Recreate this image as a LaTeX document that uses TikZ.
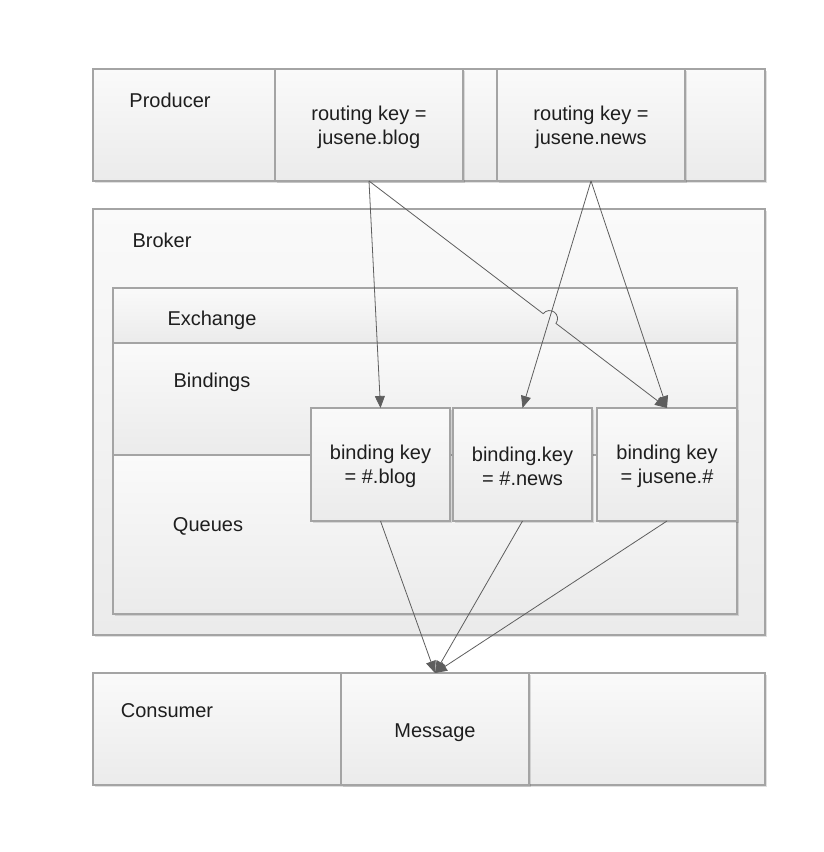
\documentclass[tikz,border=0pt]{standalone}
\usepackage{fontspec}
\setmainfont{Liberation Sans}
\usetikzlibrary{calc,arrows.meta,shadows}
\definecolor{boxline}{HTML}{A4A4A4}
\definecolor{boxtop}{HTML}{FAFAFA}
\definecolor{boxbot}{HTML}{EBEBEB}
\definecolor{txt}{HTML}{1E1E1E}
\definecolor{arrc}{HTML}{5E5E5E}
\newcommand{\lblfont}{\fontsize{20}{24}\selectfont}
\newcommand{\tstrut}{\rule{0pt}{19pt}}
\begin{document}
\begin{tikzpicture}[x=1pt,y=-1pt,
  box/.style={draw=boxline, line width=1.3pt, top color=boxtop, bottom color=boxbot,
    inner sep=0pt, outer sep=0pt, align=center, font=\lblfont, text=txt,
    drop shadow={shadow xshift=1.5pt, shadow yshift=-2pt, opacity=0.12, fill=black}},
  lab/.style={font=\lblfont, text=txt, inner sep=0pt},
  conn/.style={draw=arrc, line width=0.8pt, -{Triangle[length=12pt,width=10pt]}, arrc}]
\useasboundingbox (0,0) rectangle (824,852);
\fill[white] (0,0) rectangle (824,852);

% Producer
\node[box, minimum width=672pt, minimum height=112pt] (prod) at (429,125) {};
\node[box, minimum width=188pt, minimum height=112pt] (rk1) at (369,125) {\tstrut routing key =\\jusene.blog};
\node[box, minimum width=188pt, minimum height=112pt] (rk2) at (591,125) {\tstrut routing key =\\jusene.news};
\node[lab] (plab) at (170,100.5) {Producer};

% Broker
\node[box, minimum width=672pt, minimum height=426pt] (broker) at (429,422) {};
\node[lab] (blab) at (162,240.5) {Broker};
\node[box, minimum width=624pt, minimum height=55pt] (exch) at (425,315.5) {};
\node[lab] (elab) at (212,320.5) {Exchange};
\node[box, minimum width=624pt, minimum height=112pt] (bind) at (425,399) {};
\node[lab] (bilab) at (212,382.5) {Bindings};
\node[box, minimum width=624pt, minimum height=159pt] (queues) at (425,534.5) {};
\node[lab] (qlab) at (208,526.5) {Queues};
\node[box, minimum width=139pt, minimum height=113pt] (b1) at (380.5,464.5) {\tstrut binding key\\= \#.blog};
\node[box, minimum width=139pt, minimum height=113pt] (b2) at (522.5,464.5) {\tstrut binding.key\\= \#.news};
\node[box, minimum width=140pt, minimum height=113pt] (b3) at (667,464.5) {\tstrut binding key\\= jusene.\#};

% Consumer
\node[box, minimum width=672pt, minimum height=112pt] (cons) at (429,729) {};
\node[lab] (clab) at (167,710.5) {Consumer};
\node[box, minimum width=188pt, minimum height=112pt] (msg) at (435,729) {\rule{0pt}{20.5pt}Message};

% connectors
\draw[conn] (rk1.south) -- (b1.north);
\draw[conn] (rk2.south) -- (b2.north);
\draw[conn] (rk2.south) -- (b3.north);
\coordinate (X) at (intersection of rk1.south--b3.north and rk2.south--b2.north);
\draw[conn] (rk1.south) -- ($(X)!8pt!(rk1.south)$)
   arc[start angle=142.7, end angle=-37.3, radius=8pt] -- (b3.north);
\draw[conn] (b1.south) -- (msg.north);
\draw[conn] (b2.south) -- (msg.north);
\draw[conn] (b3.south) -- (msg.north);
\end{tikzpicture}
\end{document}
